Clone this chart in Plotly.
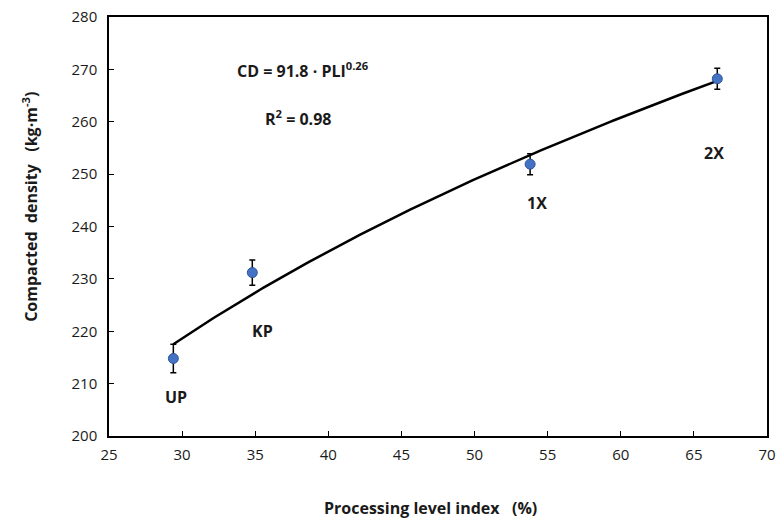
import numpy as np
import plotly.graph_objects as go

# Processing levels
labels = ["UP", "KP", "1X", "2X"]
pli = [29.4, 34.8, 53.8, 66.6]            # processing level index (%)
density = [214.8, 231.2, 251.9, 268.2]    # compacted density (kg·m-3)
density_err = [2.7, 2.4, 2.0, 2.0]

# label anchor positions (data coordinates)
label_x = [29.6, 35.5, 54.3, 66.4]
label_y = [207.5, 220.1, 244.5, 254.0]

x_ticks = [25, 30, 35, 40, 45, 50, 55, 60, 65, 70]
y_ticks = [200, 210, 220, 230, 240, 250, 260, 270, 280]

# power-law trend line fitted in log space
b, log_a = np.polyfit(np.log(pli), np.log(density), 1)
a = np.exp(log_a)
xf = np.linspace(min(pli), max(pli), 200)
yf = a * xf ** b

FONT = "Open Sans"
TXT = "#1a1a1a"

fig = go.Figure()
fig.add_trace(go.Scatter(
    x=xf, y=yf, mode="lines",
    line=dict(color="black", width=2.5),
    hoverinfo="skip", showlegend=False,
))
fig.add_trace(go.Scatter(
    x=pli, y=density, mode="markers",
    marker=dict(size=10, color="#4472C4", line=dict(color="#2F5597", width=1)),
    error_y=dict(type="data", array=density_err, color="black", thickness=1.5, width=3),
    showlegend=False,
))

for t, lx, ly in zip(labels, label_x, label_y):
    fig.add_annotation(x=lx, y=ly, text=f"<b>{t}</b>", showarrow=False,
                       xanchor="center", yanchor="middle",
                       font=dict(family=FONT, size=16, color=TXT))

fig.add_annotation(x=38.3, y=269.9, showarrow=False, xanchor="center", yanchor="middle",
                   text="<b>CD = 91.8 · PLI<sup>0.26</sup></b>",
                   font=dict(family=FONT, size=16, color=TXT))
fig.add_annotation(x=37.9, y=260.7, showarrow=False, xanchor="center", yanchor="middle",
                   text="<b>R<sup>2</sup> = 0.98</b>",
                   font=dict(family=FONT, size=16, color=TXT))

# axis titles
fig.add_annotation(xref="paper", yref="paper", x=0.488, y=-0.172, showarrow=False,
                   xanchor="center", yanchor="middle",
                   text="<b>Processing level index\u00a0\u00a0\u00a0(%)</b>",
                   font=dict(family=FONT, size=16, color=TXT))
fig.add_annotation(xref="paper", yref="paper", x=-0.120, y=0.547, showarrow=False,
                   xanchor="center", yanchor="middle", textangle=-90,
                   text="<b>Compacted\u00a0\u00a0density\u00a0\u00a0\u00a0(kg·m<sup>-3</sup>)</b>",
                   font=dict(family=FONT, size=16, color=TXT))

axis_common = dict(
    showgrid=False, zeroline=False, showline=True, linecolor="black",
    linewidth=1.5, mirror=True, ticks="inside", ticklen=5, tickwidth=1.2,
    tickcolor="black", tickfont=dict(family=FONT, size=15, color=TXT),
    automargin=False,
)

fig.update_layout(
    width=778, height=520,
    margin=dict(l=109, r=11, t=17, b=84),
    paper_bgcolor="white", plot_bgcolor="white",
    xaxis=dict(range=[25, 70], tickvals=x_ticks, ticklabelstandoff=4, **axis_common),
    yaxis=dict(range=[200, 280], tickvals=y_ticks, ticklabelstandoff=7, **axis_common),
)

fig.write_html("out.html")
